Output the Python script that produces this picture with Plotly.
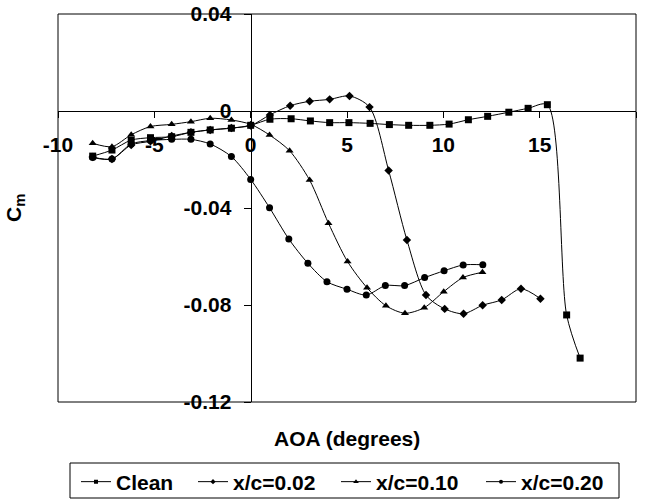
import plotly.graph_objects as go

# ---- data (AOA in degrees, Cm) ----
clean_aoa = [-8.2, -7.2, -6.2, -5.2, -4.1, -3.1, -2.1, -1.0, 0.0, 1.0, 2.1, 3.1, 4.1, 5.1, 6.2,
             7.2, 8.2, 9.3, 10.3, 11.3, 12.3, 13.4, 14.4, 15.4, 16.4, 17.1]
clean_cm = [-0.0186, -0.0161, -0.0120, -0.0110, -0.0106, -0.0088, -0.0078, -0.0071, -0.0059, -0.0034,
            -0.0032, -0.0041, -0.0048, -0.0048, -0.0051, -0.0056, -0.0059, -0.0059, -0.0054, -0.0036,
            -0.0022, -0.0005, 0.0011, 0.0026, -0.0841, -0.1019]

x002_aoa = [-8.2, -7.2, -6.2, -5.2, -4.1, -3.1, -2.1, -1.0, 0.0, 1.0, 2.05, 3.06, 4.1, 5.13, 6.17,
            7.16, 8.11, 9.1, 10.07, 11.05, 12.04, 13.03, 14.03, 15.04]
x002_cm = [-0.0190, -0.0198, -0.0140, -0.0125, -0.0103, -0.0088, -0.0078, -0.0070, -0.0060, -0.0016,
           0.0022, 0.0040, 0.0048, 0.0062, 0.0016, -0.0245, -0.0532, -0.0759, -0.0816, -0.0836,
           -0.0801, -0.0779, -0.0733, -0.0774]

x010_aoa = [-8.2, -7.2, -6.2, -5.2, -4.1, -3.1, -2.1, -1.0, 0.0, 0.98, 2.02, 3.06, 4.04, 5.03,
            6.04, 7.02, 8.01, 9.01, 10.02, 11.02, 12.03]
x010_cm = [-0.0133, -0.0147, -0.0098, -0.0064, -0.0055, -0.0044, -0.0030, -0.0037, -0.0055, -0.0099,
           -0.0164, -0.0285, -0.0463, -0.0621, -0.0729, -0.0803, -0.0834, -0.0811, -0.0745, -0.0687,
           -0.0665]

x020_aoa = [-8.2, -7.2, -6.2, -5.2, -4.1, -3.1, -2.1, -1.0, 0.0, 0.98, 1.98, 2.97, 3.96, 5.0,
            6.0, 6.99, 7.99, 9.03, 10.04, 11.03, 12.05]
x020_cm = [-0.0192, -0.0198, -0.0136, -0.0122, -0.0117, -0.0117, -0.0136, -0.0188, -0.0282, -0.0399,
           -0.0528, -0.0628, -0.0704, -0.0735, -0.0759, -0.0720, -0.0720, -0.0687, -0.0659, -0.0635,
           -0.0634]

x_ticks = [-10, -5, 0, 5, 10, 15, 20]
x_tick_text = ["-10", "-5", "0", "5", "10", "15", "20"]
y_ticks = [0.04, 0, -0.04, -0.08, -0.12]
y_tick_text = ["0.04", "0", "-0.04", "-0.08", "-0.12"]

series_names = ["Clean", "x/c=0.02", "x/c=0.10", "x/c=0.20"]
series_x = [clean_aoa, x002_aoa, x010_aoa, x020_aoa]
series_y = [clean_cm, x002_cm, x010_cm, x020_cm]
symbols = ["square", "diamond", "triangle-up", "circle"]
sizes = [7, 6.5, 7, 7]
legend_sizes = [4, 4, 5, 4]

FONT = "Liberation Sans, Arial, sans-serif"
PL, PR, PT, PB = 58, 636, 14, 402   # plot area in px
PW, PH = PR - PL, PB - PT

def px_x(p):
    return (p - PL) / PW

def px_y(p):
    return (PB - p) / PH

legend_left_px = [76, 193, 336, 481]
legend_keys = ["legend", "legend2", "legend3", "legend4"]

fig = go.Figure()
for i in range(4):
    fig.add_trace(go.Scatter(
        x=series_x[i], y=series_y[i], name=series_names[i], mode="lines+markers",
        line=dict(color="black", width=1, shape="spline", smoothing=0.8),
        marker=dict(symbol=symbols[i], size=sizes[i], color="black", line=dict(width=0)),
        showlegend=False,
    ))
# legend entries with the smaller legend-key markers
for i in range(4):
    fig.add_trace(go.Scatter(
        x=[None], y=[None], name=series_names[i], mode="lines+markers",
        line=dict(color="black", width=1),
        marker=dict(symbol=symbols[i], size=legend_sizes[i], color="black", line=dict(width=0)),
        legend=legend_keys[i], showlegend=True, hoverinfo="skip",
    ))

leg_common = dict(
    orientation="h", xanchor="left", yanchor="middle", y=px_y(482),
    bgcolor="rgba(0,0,0,0)", borderwidth=0, itemsizing="trace",
    font=dict(family=FONT, size=21, color="black", weight="bold"),
)
legends = {}
for k, lp in zip(legend_keys, legend_left_px):
    legends[k] = dict(leg_common, x=px_x(lp))

fig.update_layout(
    width=647, height=501,
    margin=dict(l=PL, r=647 - PR, t=PT, b=501 - PB, autoexpand=False),
    paper_bgcolor="white", plot_bgcolor="white",
    font=dict(family=FONT, size=21, color="black", weight="bold"),
    showlegend=True,
    **legends,
    xaxis=dict(
        range=[-10, 20], anchor="free", position=0.75, automargin=False,
        tickvals=x_ticks, ticktext=x_tick_text,
        ticks="outside", ticklen=6, tickcolor="black", tickwidth=1,
        ticklabelstandoff=9,
        showline=True, linecolor="black", linewidth=1,
        showgrid=False, zeroline=False,
        tickfont=dict(family=FONT, size=21, color="black", weight="bold"),
    ),
    yaxis=dict(
        range=[-0.12, 0.04], anchor="free", position=1/3, automargin=False,
        tickvals=y_ticks, ticktext=y_tick_text,
        ticks="outside", ticklen=7, tickcolor="black", tickwidth=1,
        ticklabelstandoff=8,
        showline=True, linecolor="black", linewidth=1,
        showgrid=False, zeroline=False,
        tickfont=dict(family=FONT, size=21, color="black", weight="bold"),
    ),
    shapes=[
        dict(type="rect", xref="paper", yref="paper", x0=0, x1=1, y0=0, y1=1,
             line=dict(color="black", width=1), fillcolor="rgba(0,0,0,0)", layer="above"),
        dict(type="rect", xref="paper", yref="paper", x0=px_x(70), x1=px_x(619),
             y0=px_y(498), y1=px_y(463),
             line=dict(color="black", width=1), fillcolor="rgba(0,0,0,0)", layer="above"),
    ],
    annotations=[
        dict(text="AOA (degrees)", xref="paper", yref="paper", x=0.5, y=px_y(438),
             xanchor="center", yanchor="middle", showarrow=False,
             font=dict(family=FONT, size=21, color="black", weight="bold")),
        dict(text="C<sub>m</sub>", xref="paper", yref="paper", x=px_x(15), y=0.5,
             xanchor="center", yanchor="middle", showarrow=False, textangle=-90,
             font=dict(family=FONT, size=21, color="black", weight="bold")),
    ],
)

fig.write_html("out.html")
